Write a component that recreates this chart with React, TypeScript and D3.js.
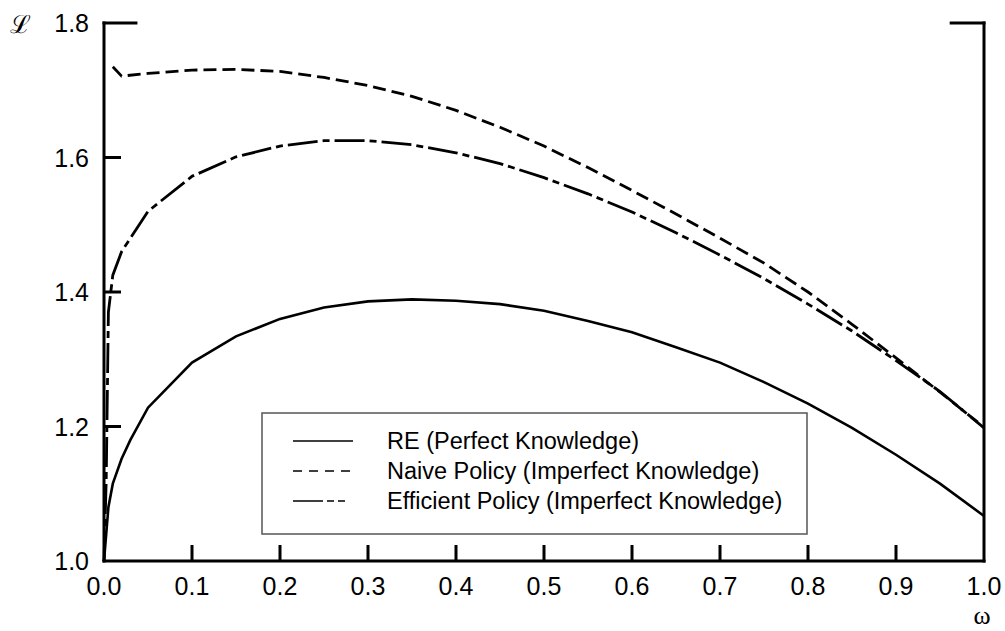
import * as d3 from "d3";

// omega grid and loss values
const reOmega = [0, 0.005, 0.01, 0.02, 0.03, 0.05, 0.1, 0.15, 0.2, 0.25, 0.3, 0.35, 0.4, 0.45, 0.5, 0.55, 0.6, 0.65, 0.7, 0.75, 0.8, 0.85, 0.9, 0.95, 1.0];
const reLoss = [1.0, 1.08, 1.115, 1.152, 1.18, 1.228, 1.295, 1.334, 1.36, 1.377, 1.386, 1.389, 1.387, 1.382, 1.372, 1.357, 1.34, 1.318, 1.295, 1.266, 1.234, 1.198, 1.158, 1.115, 1.067];

const naiveOmega = [0.01, 0.02, 0.05, 0.1, 0.15, 0.2, 0.25, 0.3, 0.35, 0.4, 0.45, 0.5, 0.55, 0.6, 0.65, 0.7, 0.75, 0.8, 0.85, 0.9, 0.95, 1.0];
const naiveLoss = [1.735, 1.721, 1.725, 1.73, 1.731, 1.728, 1.719, 1.707, 1.691, 1.67, 1.645, 1.617, 1.585, 1.551, 1.516, 1.48, 1.443, 1.4, 1.352, 1.302, 1.251, 1.199];

const effOmega = [0, 0.0025, 0.005, 0.01, 0.02, 0.05, 0.1, 0.15, 0.2, 0.25, 0.3, 0.35, 0.4, 0.45, 0.5, 0.55, 0.6, 0.65, 0.7, 0.75, 0.8, 0.85, 0.9, 0.95, 1.0];
const effLoss = [1.0, 1.12, 1.37, 1.425, 1.46, 1.52, 1.572, 1.601, 1.617, 1.625, 1.625, 1.619, 1.607, 1.591, 1.57, 1.546, 1.519, 1.488, 1.455, 1.42, 1.382, 1.342, 1.298, 1.252, 1.198];

const xTicks = [0, 0.1, 0.2, 0.3, 0.4, 0.5, 0.6, 0.7, 0.8, 0.9, 1.0];
const yTicks = [1.0, 1.2, 1.4, 1.6, 1.8];

const legendItems = [
  { label: "RE (Perfect Knowledge)", dash: "none" },
  { label: "Naive Policy (Imperfect Knowledge)", dash: "9,7" },
  { label: "Efficient Policy (Imperfect Knowledge)", dash: "30,4,7,4,7" },
];

const W = 1005;
const H = 631;
const left = 104, right = 984, top = 23, bottom = 561;

export default function App() {
  const x = d3.scaleLinear().domain([0, 1]).range([left, right]);
  const y = d3.scaleLinear().domain([1, 1.8]).range([bottom, top]);
  const font = "'Liberation Sans', Arial, sans-serif";

  const line = (xs: number[], ys: number[]) =>
    d3.line<number>()
      .x((_, i) => x(xs[i]))
      .y((d) => y(d))(ys) || "";

  return (
    <div style={{ position: "absolute", left: 0, top: 0 }}>
      <svg width={W} height={H} style={{ display: "block", background: "#fff" }}>
        {/* curves */}
        <path d={line(reOmega, reLoss)} fill="none" stroke="#000" strokeWidth={2.6} />
        <path d={line(naiveOmega, naiveLoss)} fill="none" stroke="#000" strokeWidth={2.8} strokeDasharray="13,6" />
        <path d={line(effOmega, effLoss)} fill="none" stroke="#000" strokeWidth={2.8} strokeDasharray="30,5,7,5" />

        {/* axes frame */}
        <line x1={left} x2={left} y1={top - 1.5} y2={bottom + 1.5} stroke="#000" strokeWidth={3} />
        <line x1={left - 1.5} x2={right + 1.5} y1={bottom} y2={bottom} stroke="#000" strokeWidth={3} />
        <line x1={right} x2={right} y1={top - 1.5} y2={bottom + 1.5} stroke="#000" strokeWidth={3} />
        <line x1={left - 1.5} x2={x(0.038)} y1={top} y2={top} stroke="#000" strokeWidth={3} />
        <line x1={x(0.961)} x2={right + 1.5} y1={top} y2={top} stroke="#000" strokeWidth={3} />

        {/* x ticks */}
        {xTicks.map((t) => (
          <g key={"x" + t}>
            {t > 0 && t < 1 && (
              <line x1={x(t)} x2={x(t)} y1={bottom} y2={bottom - 16} stroke="#000" strokeWidth={3} />
            )}
            <text x={x(t)} y={bottom + 34} textAnchor="middle" fontFamily={font} fontSize={25}>
              {t.toFixed(1)}
            </text>
          </g>
        ))}

        {/* y ticks */}
        {yTicks.map((t) => (
          <g key={"y" + t}>
            {t > 1 && t < 1.8 && (
              <line x1={left} x2={left + 17} y1={y(t)} y2={y(t)} stroke="#000" strokeWidth={3} />
            )}
            <text x={89} y={y(t)} dy="0.36em" textAnchor="end" fontFamily={font} fontSize={25}>
              {t.toFixed(1)}
            </text>
          </g>
        ))}

        {/* axis symbols */}
        <text x={20} y={33} textAnchor="middle" fontFamily="'DejaVu Serif', serif" fontSize={25}>
          ℒ
        </text>
        <text x={982} y={624} textAnchor="middle" fontFamily="'Liberation Serif', serif" fontSize={26}>
          ω
        </text>

        {/* legend */}
        <rect x={262} y={413} width={545} height={121} fill="#fff" stroke="#555" strokeWidth={1.5} />
        {legendItems.map((it, i) => {
          const cy = 441 + i * 30;
          return (
            <g key={it.label}>
              <line x1={293} x2={353} y1={cy} y2={cy} stroke="#000" strokeWidth={1.6}
                strokeDasharray={it.dash === "none" ? undefined : it.dash} />
              <text x={387} y={cy} dy="0.36em" fontFamily={font} fontSize={23.5}>
                {it.label}
              </text>
            </g>
          );
        })}
      </svg>
    </div>
  );
}
